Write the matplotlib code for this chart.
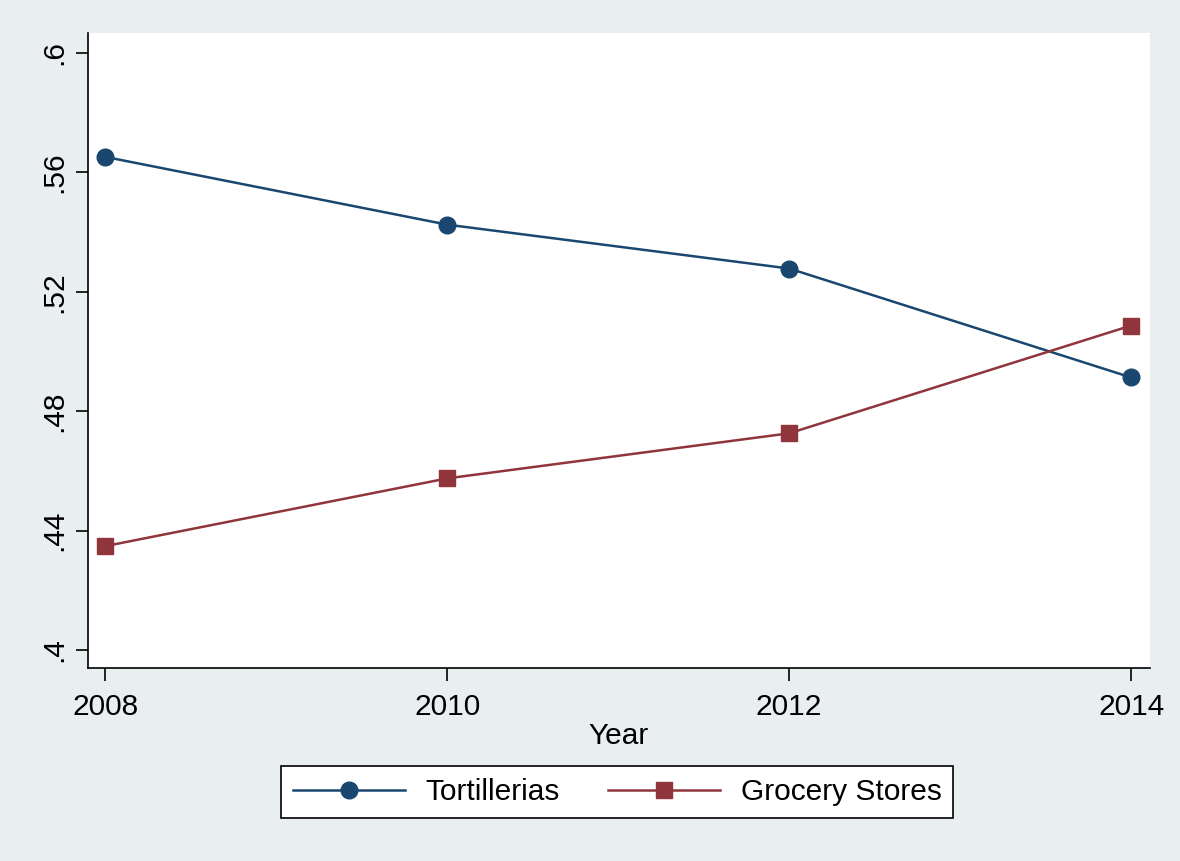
import matplotlib
matplotlib.use("Agg")
import matplotlib.pyplot as plt

years = [2008, 2010, 2012, 2014]
tortillerias = [0.5652, 0.5425, 0.5278, 0.4913]
grocery = [0.4348, 0.4575, 0.4726, 0.5087]
yticks = [0.40, 0.44, 0.48, 0.52, 0.56, 0.60]
ytick_labels = [".4", ".44", ".48", ".52", ".56", ".6"]

plt.rcParams['font.family'] = ['Liberation Sans', 'DejaVu Sans']

bg = '#E9EEF0'
navy = '#1A476F'
maroon = '#90353B'
fs = 21.5

fig = plt.figure(figsize=(11.8, 8.61), dpi=100, facecolor=bg)
ax = fig.add_axes([0.0746, 0.2242, 0.9, 0.7375])
ax.set_facecolor('white')

ax.plot(years, tortillerias, color=navy, linewidth=1.8, marker='o',
        markersize=12, label='Tortillerias')
ax.plot(years, grocery, color=maroon, linewidth=1.8, marker='s',
        markersize=11, label='Grocery Stores')

ax.set_xlim(2007.9, 2014.11)
ax.set_ylim(0.394, 0.6067)
ax.set_xticks(years)
ax.set_yticks(yticks)
ax.set_yticklabels(ytick_labels, rotation=90, va='center')
ax.tick_params(axis='both', labelsize=fs, length=9, width=1.2, direction='out')
ax.tick_params(axis='y', pad=5)
ax.tick_params(axis='x', pad=9)
ax.set_xlabel('Year', fontsize=fs, labelpad=1)

ax.spines['top'].set_visible(False)
ax.spines['right'].set_visible(False)
ax.spines['left'].set_linewidth(1.2)
ax.spines['bottom'].set_linewidth(1.2)

leg = fig.legend(loc='center', bbox_to_anchor=(0.523, 0.080), ncol=2,
                 fontsize=fs, frameon=True, fancybox=False, handlelength=3.75,
                 columnspacing=1.6, borderpad=0.4, handletextpad=0.7)
leg.get_frame().set_edgecolor('black')
leg.get_frame().set_linewidth(1.2)
leg.get_frame().set_facecolor('white')
leg.get_frame().set_alpha(1)

fig.savefig('out.png', dpi=100, facecolor=bg)
